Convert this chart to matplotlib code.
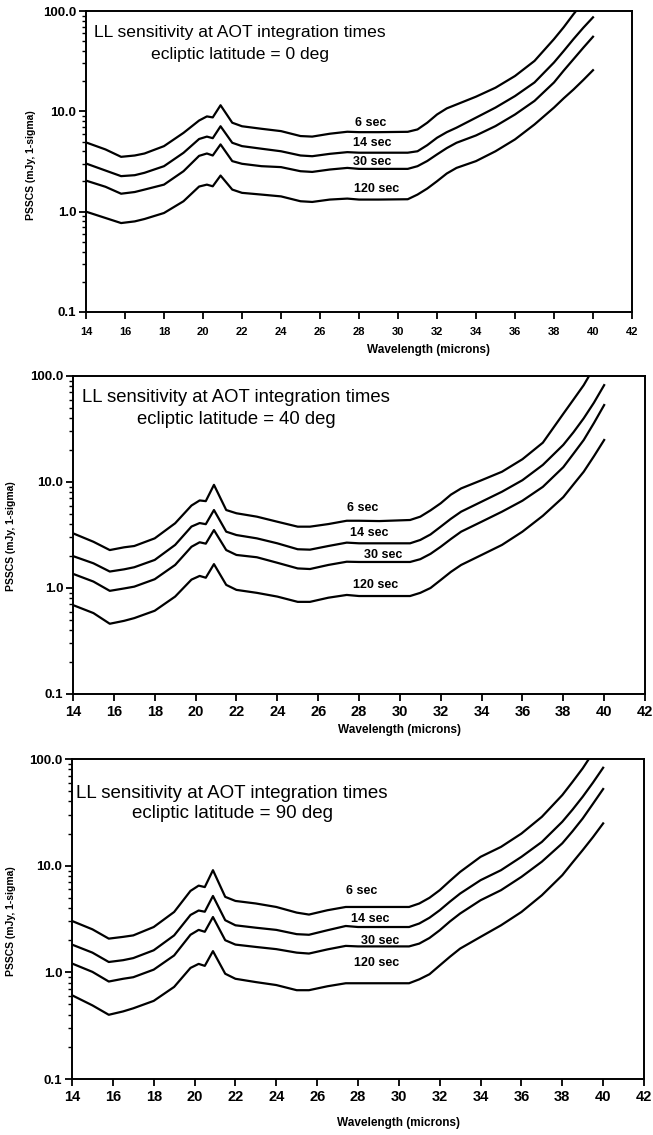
import matplotlib
matplotlib.use("Agg")
import matplotlib.pyplot as plt
from matplotlib.ticker import FixedLocator, FormatStrFormatter, LogLocator, NullFormatter

plt.rcParams["font.family"] = ["Liberation Sans Narrow", "Liberation Sans", "DejaVu Sans"]

# wavelength grid (microns) shared by the 14/30/120 sec curves
wavelength = [14, 15, 15.8, 16.5, 17, 18, 19, 19.8, 20.2, 20.5, 20.9, 21.5, 22, 23, 24,
              25, 25.6, 26.5, 27.4, 28, 29, 30.5, 31, 31.5, 32, 32.5, 33, 34, 35, 36, 37,
              38, 38.5, 39, 39.5, 40]
# the 6 sec curve leaves the top of the plot just past 39 microns
wavelength_6s = wavelength[:-2] + [39.3]

times = ["6 sec", "14 sec", "30 sec", "120 sec"]
latitudes = [0, 40, 90]

# PSSCS (mJy, 1-sigma), ecliptic latitude = 0 deg
lat0_6s = [4.9, 4.17, 3.52, 3.63, 3.8, 4.5, 6.1, 8.1, 8.9, 8.7, 11.5, 7.7, 7.1, 6.7, 6.35,
           5.67, 5.6, 5.98, 6.26, 6.2, 6.2, 6.25, 6.6, 7.7, 9.3, 10.7, 11.7, 14.0, 17.2, 22.5,
           31.8, 52.5, 69, 93, 110]
lat0_14s = [3.02, 2.57, 2.26, 2.31, 2.44, 2.84, 3.86, 5.3, 5.6, 5.4, 7.1, 4.86, 4.5, 4.24, 4.0,
            3.63, 3.57, 3.77, 3.92, 3.87, 3.87, 3.87, 4.0, 4.6, 5.45, 6.2, 6.87, 8.65, 10.9, 14.2,
            19.4, 30.7, 40, 52.5, 68, 86.5]
lat0_30s = [2.04, 1.77, 1.51, 1.57, 1.66, 1.86, 2.53, 3.6, 3.8, 3.63, 4.68, 3.19, 3.0, 2.84, 2.78,
            2.53, 2.49, 2.63, 2.73, 2.67, 2.67, 2.67, 2.84, 3.2, 3.72, 4.3, 4.86, 5.75, 7.13, 9.3,
            12.7, 19.4, 25.5, 33.1, 43, 55.4]
lat0_120s = [1.0, 0.865, 0.77, 0.80, 0.845, 0.97, 1.27, 1.78, 1.86, 1.79, 2.29, 1.66, 1.54, 1.48, 1.42,
             1.27, 1.25, 1.32, 1.35, 1.32, 1.32, 1.33, 1.48, 1.7, 2.01, 2.4, 2.73, 3.19, 4.0, 5.25,
             7.4, 10.9, 13.5, 16.5, 20.5, 25.7]

# ecliptic latitude = 40 deg
lat40_6s = [3.28, 2.73, 2.28, 2.42, 2.49, 2.94, 4.08, 6.0, 6.7, 6.6, 9.4, 5.44, 5.07, 4.71, 4.22,
            3.79, 3.79, 4.01, 4.31, 4.31, 4.28, 4.38, 4.71, 5.4, 6.3, 7.6, 8.7, 10.4, 12.5, 16.4,
            23.5, 44, 60, 82, 103]
lat40_14s = [2.0, 1.71, 1.43, 1.5, 1.57, 1.84, 2.55, 3.8, 4.1, 4.0, 5.44, 3.4, 3.16, 2.94, 2.64,
             2.32, 2.3, 2.49, 2.68, 2.64, 2.64, 2.64, 2.84, 3.2, 3.79, 4.5, 5.25, 6.52, 8.1, 10.4,
             14.5, 22.4, 29.5, 39.9, 56, 82]
lat40_30s = [1.36, 1.15, 0.94, 0.99, 1.03, 1.21, 1.65, 2.45, 2.7, 2.62, 3.52, 2.28, 2.05, 1.95, 1.73,
             1.53, 1.51, 1.65, 1.77, 1.76, 1.76, 1.76, 1.87, 2.1, 2.45, 2.9, 3.4, 4.22, 5.25, 6.66,
             9.0, 13.8, 18.5, 24.9, 36, 53.2]
lat40_120s = [0.69, 0.58, 0.46, 0.49, 0.52, 0.61, 0.83, 1.2, 1.3, 1.25, 1.68, 1.07, 0.96, 0.90, 0.83,
              0.74, 0.74, 0.81, 0.86, 0.84, 0.84, 0.84, 0.9, 1.0, 1.19, 1.42, 1.65, 2.05, 2.55, 3.4,
              4.8, 7.2, 9.5, 12.5, 17.5, 24.9]

# ecliptic latitude = 90 deg
lat90_6s = [3.03, 2.53, 2.07, 2.15, 2.22, 2.66, 3.68, 5.8, 6.5, 6.3, 9.07, 5.1, 4.67, 4.42, 4.1,
            3.63, 3.48, 3.82, 4.1, 4.1, 4.1, 4.1, 4.42, 5.0, 5.89, 7.2, 8.74, 12.1, 15.0, 20,
            28.7, 45.9, 61, 81.8, 100]
lat90_14s = [1.82, 1.53, 1.25, 1.3, 1.36, 1.61, 2.22, 3.45, 3.8, 3.7, 5.2, 3.08, 2.76, 2.62, 2.5,
             2.28, 2.25, 2.48, 2.72, 2.66, 2.66, 2.66, 2.87, 3.25, 3.82, 4.6, 5.48, 7.31, 9.07, 12.1,
             16.7, 25.8, 33.5, 44.3, 60, 82.8]
lat90_30s = [1.21, 1.01, 0.82, 0.87, 0.9, 1.06, 1.44, 2.25, 2.5, 2.4, 3.3, 2.0, 1.82, 1.73, 1.65,
             1.53, 1.5, 1.64, 1.77, 1.75, 1.75, 1.75, 1.86, 2.1, 2.48, 3.0, 3.56, 4.74, 5.89, 7.85,
             10.9, 16.2, 21, 27.7, 38, 52.3]
lat90_120s = [0.61, 0.49, 0.40, 0.43, 0.46, 0.54, 0.73, 1.1, 1.2, 1.15, 1.58, 0.97, 0.87, 0.81, 0.76,
              0.68, 0.68, 0.74, 0.79, 0.79, 0.79, 0.79, 0.86, 0.96, 1.16, 1.4, 1.67, 2.15, 2.76, 3.68,
              5.28, 8.14, 10.7, 14, 18.5, 24.9]

curves = [
    [lat0_6s, lat0_14s, lat0_30s, lat0_120s],
    [lat40_6s, lat40_14s, lat40_30s, lat40_120s],
    [lat90_6s, lat90_14s, lat90_30s, lat90_120s],
]

# where the integration-time labels sit (wavelength, flux) in each panel
label_pos = [
    [(28.6, 7.6), (28.7, 4.8), (28.7, 3.15), (28.9, 1.7)],
    [(28.2, 5.65), (28.5, 3.28), (29.2, 2.05), (28.8, 1.07)],
    [(28.2, 5.76), (28.6, 3.13), (29.1, 1.97), (28.9, 1.23)],
]

# figure layout (pixels of a 653x1135 canvas): axes box, title centre/rows, label spots
W, H = 653, 1135
axes_px = [(86, 11, 632, 312), (73, 376, 645, 694), (72, 759, 644, 1079)]
title_px = [(240, 32, 54), (236, 398, 420), (232, 793, 813)]
ylabel_px = [(31, 165), (11, 536), (11, 921)]
xlabel_px = [(428, 350), (400, 730), (398, 1123)]
xtick_size = [8, 10.5, 10.5]
xtick_pad = [6, 3, 3]
title_size = [12.6, 13.3, 13.5]

fig = plt.figure(figsize=(W / 100, H / 100), dpi=100)

for i, lat in enumerate(latitudes):
    x0, y0, x1, y1 = axes_px[i]
    ax = fig.add_axes([x0 / W, 1 - y1 / H, (x1 - x0) / W, (y1 - y0) / H])

    for j, vals in enumerate(curves[i]):
        wl = wavelength_6s if j == 0 else wavelength
        ax.plot(wl, vals, color="black", lw=1.6, solid_joinstyle="round")
        lx, ly = label_pos[i][j]
        ax.text(lx, ly, times[j], ha="center", va="center", fontsize=9,
                fontweight="bold")

    ax.set_yscale("log")
    ax.set_xlim(14, 42)
    ax.set_ylim(0.1, 100)
    ax.xaxis.set_major_locator(FixedLocator(range(14, 43, 2)))
    ax.yaxis.set_major_locator(FixedLocator([0.1, 1, 10, 100]))
    ax.yaxis.set_major_formatter(FormatStrFormatter("%.1f"))
    ax.yaxis.set_minor_locator(LogLocator(base=10, subs=range(2, 10)))
    ax.yaxis.set_minor_formatter(NullFormatter())

    ax.tick_params(axis="both", which="major", direction="out", length=5, width=1.3,
                   color="black")
    ax.tick_params(axis="y", which="minor", direction="out", length=3, width=1.0)
    ax.tick_params(axis="x", labelsize=xtick_size[i], pad=xtick_pad[i])
    ax.tick_params(axis="y", labelsize=9.5, pad=2)
    for lab in ax.get_xticklabels() + ax.get_yticklabels():
        lab.set_fontweight("bold")
    for sp in ax.spines.values():
        sp.set_linewidth(1.4)

    tx, ty1, ty2 = title_px[i]
    fig.text(tx / W, 1 - ty1 / H, "LL sensitivity at AOT integration times",
             ha="center", va="center", fontsize=title_size[i],
             family=["Liberation Sans", "DejaVu Sans"])
    fig.text(tx / W, 1 - ty2 / H, "ecliptic latitude = %d deg" % lat,
             ha="center", va="center", fontsize=title_size[i],
             family=["Liberation Sans", "DejaVu Sans"])

    yx, yy = ylabel_px[i]
    fig.text(yx / W, 1 - yy / H, "PSSCS (mJy, 1-sigma)", rotation=90,
             ha="center", va="center", fontsize=7.5, fontweight="bold")
    xx, xy = xlabel_px[i]
    fig.text(xx / W, 1 - xy / H, "Wavelength (microns)", ha="center", va="center",
             fontsize=8.5, fontweight="bold")

fig.savefig("out.png", dpi=100, facecolor="white")
